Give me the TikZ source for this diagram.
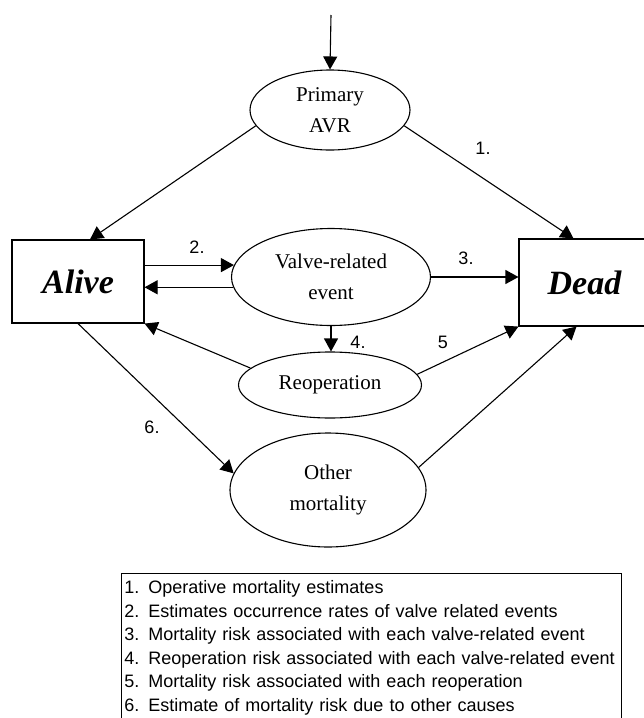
\documentclass[tikz,border=0pt]{standalone}
\usepackage{fontspec}
\setmainfont{Liberation Serif}
\newfontfamily\arialfont{Liberation Sans}
\usetikzlibrary{shapes,arrows.meta,calc}

\begin{document}
\begin{tikzpicture}[x=1pt,y=-1pt,>={Triangle[length=13pt,width=14pt]},line width=1.1pt]

\tikzstyle{event}=[ellipse,draw,inner sep=0pt,align=center,font=\fontsize{21}{31}\selectfont]
\tikzstyle{state}=[rectangle,draw,inner sep=0pt,font=\fontsize{34}{40}\selectfont\bfseries\itshape]
\tikzstyle{annot}=[font=\arialfont\fontsize{18}{22}\selectfont]

\useasboundingbox (0,0) rectangle (644,718);

\node[event, minimum width=160pt, minimum height=80pt] (avr) at (330,110) {Primary\\AVR};
\node[state, minimum width=132pt, minimum height=83pt] (alive) at (78,281.5) {Alive};
\node[state, minimum width=131pt, minimum height=87pt] (dead) at (584.5,282.5) {Dead};
\node[event, minimum width=199pt, minimum height=97pt] (valve) at (331,277) {Valve-related\\event};
\node[event, minimum width=183pt, minimum height=66pt] (reop) at (330,385) {Reoperation};
\node[event, minimum width=196pt, minimum height=114pt] (other) at (328,490) {Other\\mortality};

\coordinate (entry) at (331,15);
\draw[->] (entry) -- (avr.north);

\draw[->] (avr.192) -- ([xshift=12pt]alive.north);
\draw[->] (avr.-12) -- ([xshift=-11pt]dead.north);

\draw[->] (alive.east |- valve.173) -- (valve.173);
\draw[->] (valve.186) -- (alive.east |- valve.186);
\draw[->] (valve.east) -- (valve.east -| dead.west);
\draw[->] (valve.south) -- (valve.south |- reop.north);

\draw[->] (reop.168) -- (alive.south east);
\draw[->] (reop.7) -- (dead.south west);

\draw[->] (alive.south) -- (other.170);
\draw[->] (other.14) -- ([xshift=-8pt]dead.south);

\node[annot] (l1) at (483,148) {1.};
\node[annot] (l2) at (197,247) {2.};
\node[annot] (l3) at (466,258) {3.};
\node[annot] (l4) at (358,342) {4.};
\node[annot] (l5) at (443,342) {5};
\node[annot] (l6) at (152,427) {6.};

\node[draw, anchor=north west, line width=0.9pt, inner xsep=3pt, inner ysep=7pt, text width=494pt, align=left,
      font=\arialfont\fontsize{18}{23.6}\selectfont] (key) at (121,573) {%
1. Operative mortality estimates\\
2. Estimates occurrence rates of valve related events\\
3. Mortality risk associated with each valve-related event\\
4. Reoperation risk associated with each valve-related event\\
5. Mortality risk associated with each reoperation\\
6. Estimate of mortality risk due to other causes};

\end{tikzpicture}
\end{document}
